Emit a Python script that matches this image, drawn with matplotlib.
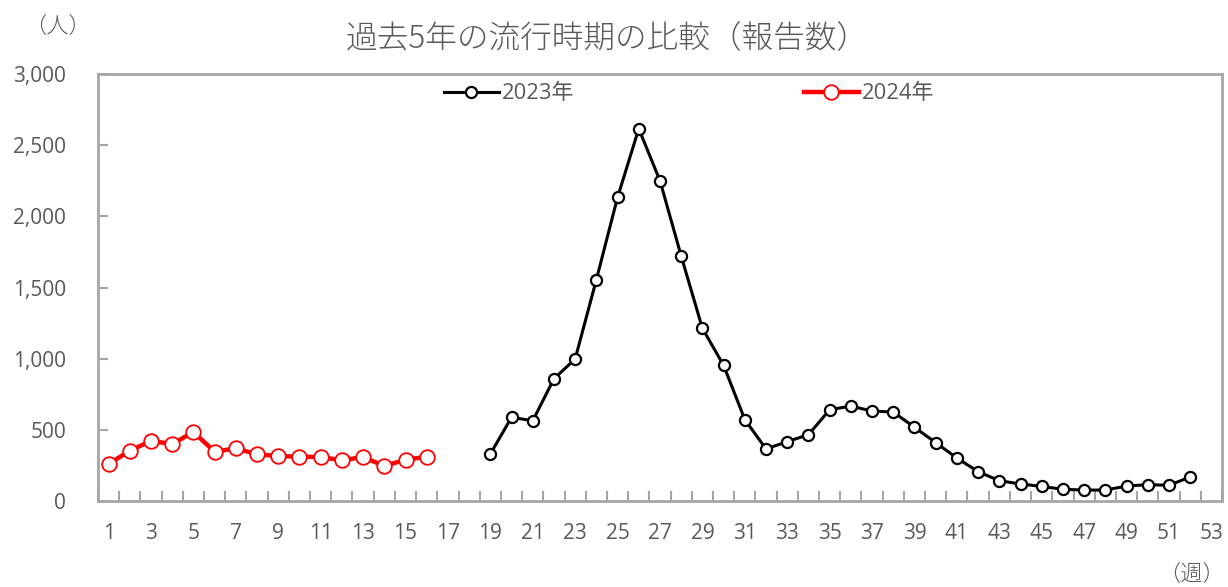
import matplotlib
matplotlib.use("Agg")
import matplotlib.pyplot as plt
from matplotlib.ticker import FixedLocator, FuncFormatter

plt.rcParams['font.family'] = ['Noto Sans CJK JP', 'DejaVu Sans']

# Weekly report counts
weeks_2024 = list(range(1, 17))
counts_2024 = [260, 353, 422, 400, 485, 346, 370, 328, 316, 311, 309, 286, 309, 246, 290, 311]

weeks_2023 = list(range(19, 53))
counts_2023 = [330, 588, 564, 859, 998, 1555, 2134, 2616, 2250, 1721, 1213, 953,
               572, 366, 417, 466, 641, 667, 632, 625, 518, 410, 302, 206,
               143, 119, 103, 82, 77, 77, 105, 115, 110, 169]

series_labels = ['2023年', '2024年']
title_text = '過去5年の流行時期の比較（報告数）'
y_unit = '（人）'
x_unit = '（週）'
y_ticks = [0, 500, 1000, 1500, 2000, 2500, 3000]
x_tick_labels = list(range(1, 54, 2))

text_gray = '#595959'
frame_gray = '#a6a6a6'
num_family = ['Open Sans', 'Noto Sans CJK JP']

fig = plt.figure(figsize=(12.28, 5.87), dpi=100)
ax = fig.add_axes([0.0798, 0.1465, 0.9153, 0.7274])

l23, = ax.plot(weeks_2023, counts_2023, color='black', lw=2.2, marker='o',
               markersize=8, markerfacecolor='white', markeredgecolor='black',
               markeredgewidth=1.6, zorder=3)
l24, = ax.plot(weeks_2024, counts_2024, color='#ff0000', lw=3.2, marker='o',
               markersize=10.5, markerfacecolor='white', markeredgecolor='#ff0000',
               markeredgewidth=1.3, zorder=3)

ax.set_xlim(0.5, 53.5)
ax.set_ylim(0, 3000)
ax.xaxis.set_major_locator(FixedLocator(x_tick_labels))
ax.xaxis.set_minor_locator(FixedLocator([w + 0.5 for w in range(0, 54)]))
ax.yaxis.set_major_locator(FixedLocator(y_ticks))
ax.yaxis.set_major_formatter(FuncFormatter(lambda v, p: f'{int(v):,}'))

ax.tick_params(axis='x', which='major', length=0, pad=16, labelsize=15,
               labelcolor=text_gray)
ax.tick_params(axis='x', which='minor', direction='in', length=7, width=1.5,
               color=frame_gray)
ax.tick_params(axis='y', which='major', direction='in', length=7, width=1.5,
               color=frame_gray, pad=23, labelsize=15, labelcolor=text_gray)
for lab in ax.get_yticklabels() + ax.get_xticklabels():
    lab.set_family(num_family)
for lab in ax.get_yticklabels():
    lab.set_horizontalalignment('right')

for s in ax.spines.values():
    s.set_color(frame_gray)
    s.set_linewidth(2)

fig.text(0.4945, 0.935, title_text, ha='center', va='center', fontsize=22.8,
         color=text_gray, fontweight='light')
fig.text(0.047, 0.953, y_unit, ha='center', va='center', fontsize=16,
         color=text_gray, fontweight='light')
fig.text(0.97, 0.018, x_unit, ha='center', va='center', fontsize=16,
         color=text_gray, fontweight='light')

leg1 = fig.legend([l23], [series_labels[0]], loc='center left',
                  bbox_to_anchor=(0.3455, 0.84), frameon=False,
                  prop={'family': num_family, 'size': 15.8},
                  handlelength=2.5, handletextpad=0.15, labelcolor=text_gray)
leg2 = fig.legend([l24], [series_labels[1]], loc='center left',
                  bbox_to_anchor=(0.6385, 0.84), frameon=False,
                  prop={'family': num_family, 'size': 15.8},
                  handlelength=2.5, handletextpad=0.15, labelcolor=text_gray)

fig.savefig('out.png', dpi=100)
